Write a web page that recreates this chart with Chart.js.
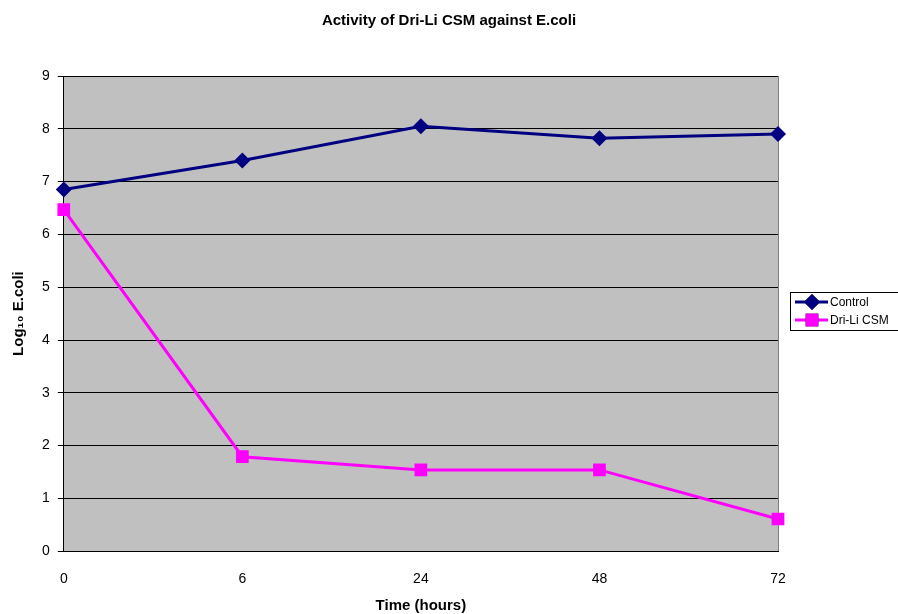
<!DOCTYPE html>
<html>
<head>
<meta charset="utf-8">
<script src="https://cdn.jsdelivr.net/npm/chart.js@4/dist/chart.umd.min.js"></script>
<style>
  html, body { margin: 0; padding: 0; background: #fff; }
  #wrap { width: 898px; height: 614px; }
</style>
</head>
<body>
<div id="wrap"><canvas id="chart"></canvas></div>
<script>
const hours = ['0', '6', '24', '48', '72'];
const controlValues = [6.85, 7.40, 8.05, 7.82, 7.90];
const driLiValues = [6.47, 1.79, 1.54, 1.54, 0.61];
const seriesNames = ['Control', 'Dri-Li CSM'];
const chartTitle = 'Activity of Dri-Li CSM against E.coli';

const font = '"Liberation Sans", Arial, sans-serif';

// gray plot background
const plotBg = {
  id: 'plotBg',
  beforeDraw(chart) {
    const { ctx, chartArea: a } = chart;
    ctx.save();
    ctx.fillStyle = '#c0c0c0';
    ctx.fillRect(a.left, a.top, a.right - a.left, a.bottom - a.top);
    ctx.strokeStyle = '#808080';
    ctx.lineWidth = 1;
    ctx.beginPath();
    ctx.moveTo(a.right + 0.5, a.top);
    ctx.lineTo(a.right + 0.5, a.bottom);
    ctx.stroke();
    ctx.restore();
  }
};

// title centred on the whole canvas, plus excel style legend box
const boxLegend = {
  id: 'boxLegend',
  afterDraw(chart) {
    const ctx = chart.ctx;
    ctx.save();
    ctx.fillStyle = '#000';
    ctx.textAlign = 'center';
    ctx.textBaseline = 'middle';
    ctx.font = 'bold 15px ' + font;
    ctx.fillText(chartTitle, chart.width / 2, 21);

    const x = 790, y = 292, w = 120, h = 38;
    ctx.textAlign = 'left';
    ctx.strokeStyle = '#000';
    ctx.lineWidth = 1;
    ctx.strokeRect(x + 0.5, y + 0.5, w, h);
    ctx.font = '12px ' + font;
    chart.data.datasets.forEach((ds, i) => {
      const ly = y + 10 + i * 18;
      ctx.strokeStyle = ds.borderColor;
      ctx.lineWidth = 3;
      ctx.beginPath();
      ctx.moveTo(x + 5, ly);
      ctx.lineTo(x + 38, ly);
      ctx.stroke();
      Chart.helpers.drawPoint(ctx, {
        pointStyle: ds.pointStyle,
        radius: ds.pointRadius,
        borderWidth: 0
      }, x + 22, ly);
      ctx.fillStyle = ds.backgroundColor;
      ctx.fill();
      ctx.fillStyle = '#000';
      ctx.fillText(ds.label, x + 40, ly + 1);
    });
    ctx.restore();
  }
};

new Chart(document.getElementById('chart').getContext('2d'), {
  type: 'line',
  data: {
    labels: hours,
    datasets: [{
      label: seriesNames[0],
      data: controlValues,
      borderColor: '#000080',
      backgroundColor: '#000080',
      borderWidth: 3,
      pointStyle: 'rectRot',
      pointRadius: 8,
      pointBorderWidth: 0,
      tension: 0
    }, {
      label: seriesNames[1],
      data: driLiValues,
      borderColor: '#ff00ff',
      backgroundColor: '#ff00ff',
      borderWidth: 3,
      pointStyle: 'rect',
      pointRadius: 9,
      pointBorderWidth: 0,
      tension: 0
    }]
  },
  options: {
    responsive: true,
    maintainAspectRatio: false,
    animation: false,
    layout: { padding: { top: 76, right: 120, left: 10, bottom: -1 } },
    plugins: {
      legend: { display: false },
      tooltip: { enabled: false },
      title: { display: false }
    },
    scales: {
      x: {
        offset: false,
        grid: { display: false, drawOnChartArea: false, tickLength: 6, color: '#000' },
        border: { color: '#000', width: 1 },
        ticks: { color: '#000', font: { family: font, size: 14 }, padding: 14, maxRotation: 0 },
        title: {
          display: true,
          text: 'Time (hours)',
          color: '#000',
          font: { family: font, size: 15, weight: 'bold' },
          padding: { top: -5, bottom: 0 }
        }
      },
      y: {
        min: 0,
        max: 9,
        ticks: { stepSize: 1, color: '#000', font: { family: font, size: 14 }, padding: 8 },
        grid: { color: '#000', lineWidth: 1, tickLength: 6 },
        border: { color: '#000', width: 1 },
        title: {
          display: true,
          text: 'Log₁₀ E.coli',
          color: '#000',
          font: { family: font, size: 15, weight: 'bold' },
          padding: { top: 0, bottom: 6 }
        }
      }
    }
  },
  plugins: [plotBg, boxLegend]
});
</script>
</body>
</html>
